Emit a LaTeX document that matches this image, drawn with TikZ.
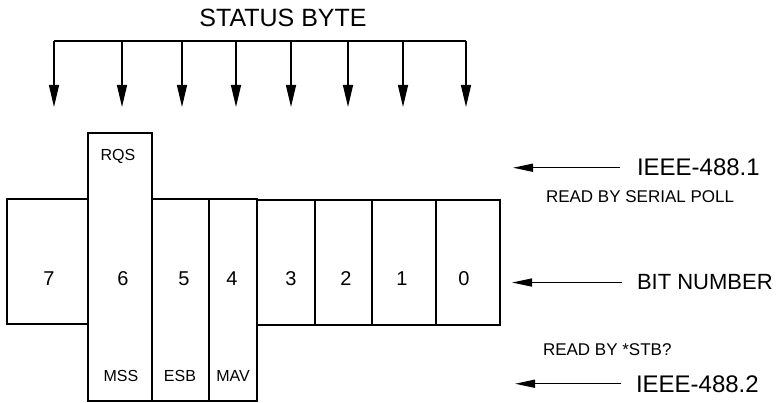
\documentclass[tikz,border=0pt]{standalone}
\usepackage{fontspec}
\setmainfont{Liberation Sans}
\usetikzlibrary{arrows.meta}
\begin{document}
\begin{tikzpicture}[x=1pt,y=-1pt,
  box/.style={draw,line width=1.5pt,inner sep=0pt,outer sep=0pt},
  txt/.style={inner sep=0pt,outer sep=0pt,anchor=base},
  num/.style={txt,font=\fontsize{20}{22}\selectfont},
  small/.style={txt,font=\fontsize{16}{18}\selectfont},
  sarr/.style={line width=1.4pt,-{Triangle[length=22pt,width=10pt]}},
  rarr/.style={line width=1.4pt,-{Triangle[length=20pt,width=8pt]}}]
\useasboundingbox (0,0) rectangle (776,403);
% title and bus
\node[txt,font=\fontsize{25}{28}\selectfont] (title) at (283,27) {STATUS BYTE};
\foreach \n/\x in {7/54,6/122,5/182,4/236,3/291,2/348,1/403,0/466}{
  \coordinate (s\n) at (\x,41);
  \coordinate (e\n) at (\x,107);
}
\draw[line width=1.4pt] (s7) -- (s0);
\foreach \n in {7,6,5,4,3,2,1,0}{\draw[sarr] (s\n) -- (e\n);}
% boxes
\node[box,minimum width=81pt,minimum height=125pt] (b7) at (47.5,261.5) {};
\node[box,minimum width=64pt,minimum height=268pt] (b6) at (120,267) {};
\node[box,minimum width=57pt,minimum height=202pt] (b5) at (180.5,300) {};
\node[box,minimum width=48pt,minimum height=202pt] (b4) at (233,300) {};
\node[box,minimum width=58pt,minimum height=125pt] (b3) at (286,262.5) {};
\node[box,minimum width=57pt,minimum height=125pt] (b2) at (343.5,262.5) {};
\node[box,minimum width=64pt,minimum height=125pt] (b1) at (404,262.5) {};
\node[box,minimum width=64pt,minimum height=125pt] (b0) at (468,262.5) {};
% bit numbers
\node[num] (n7) at (49,286) {7};
\node[num] (n6) at (123,286) {6};
\node[num] (n5) at (184,286) {5};
\node[num] (n4) at (232,286) {4};
\node[num] (n3) at (291,286) {3};
\node[num] (n2) at (346,286) {2};
\node[num] (n1) at (402,286) {1};
\node[num] (n0) at (464,286) {0};
% bit labels
\node[small] (rqs) at (118,160.5) {RQS};
\node[small] (mss) at (121,381.5) {MSS};
\node[small] (esb) at (180,381.5) {ESB};
\node[small] (mav) at (233,381.5) {MAV};
% right side
\node[txt,anchor=base west,font=\fontsize{24}{26}\selectfont] (t1) at (637,176) {IEEE-488.1};
\node[txt,anchor=base west,font=\fontsize{17}{19}\selectfont] (t2) at (546,203) {READ BY SERIAL POLL};
\node[txt,anchor=base west,font=\fontsize{22}{24}\selectfont] (t3) at (637,290) {BIT NUMBER};
\node[txt,anchor=base west,font=\fontsize{17}{19}\selectfont] (t4) at (543,355) {READ BY *STB?};
\node[txt,anchor=base west,font=\fontsize{24}{26}\selectfont] (t5) at (636,392) {IEEE-488.2};
\coordinate (a1) at (513,167);
\coordinate (a3) at (512,282);
\coordinate (a5) at (515,386);
\draw[rarr] ([xshift=-17pt]t1.west) -- (t1.west -| a1);
\draw[rarr] ([xshift=-15pt]t3.west) -- (t3.west -| a3);
\draw[rarr] ([xshift=-15pt]t5.west) -- (t5.west -| a5);
\end{tikzpicture}
\end{document}
